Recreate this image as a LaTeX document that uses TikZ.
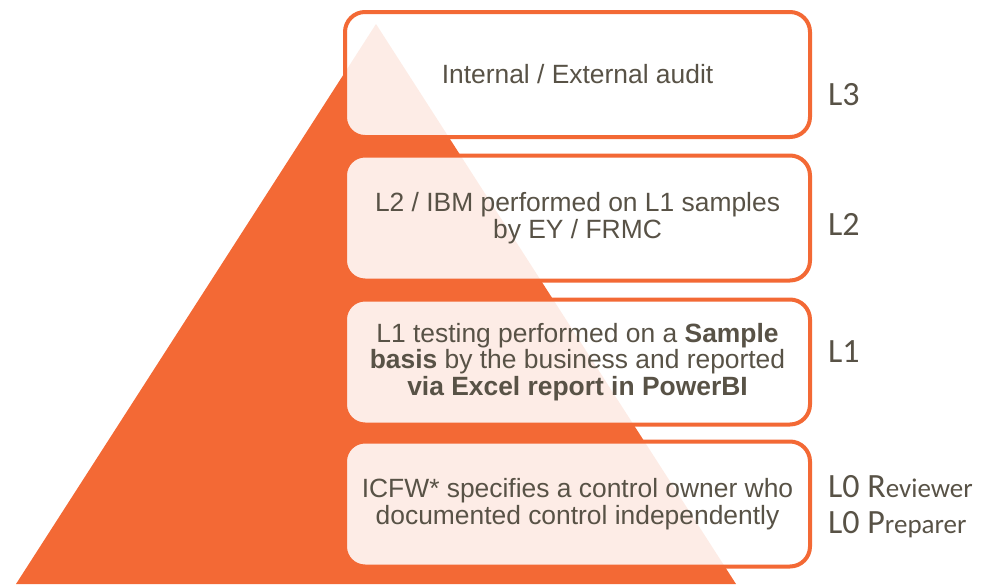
\documentclass[tikz,border=0pt]{standalone}
\usepackage{fontspec}
\setmainfont{Liberation Sans}
\newfontfamily\lvlfont{Carlito}
\usetikzlibrary{positioning}
\definecolor{pyr}{HTML}{F36935}
\definecolor{txt}{HTML}{585246}
\tikzset{
  tier/.style={draw=pyr, line width=4pt, rounded corners=20pt,
    fill=white, fill opacity=0.88, text opacity=1, text=txt,
    minimum width=465pt, minimum height=125pt, inner sep=0pt,
    align=center, font=\fontsize{26.4}{26.7}\selectfont},
  lvl/.style={anchor=base west, inner sep=0pt, text=txt,
    font=\lvlfont\fontsize{34}{36}\selectfont}
}
\newcommand{\lvlrest}{\fontsize{27}{30}\selectfont}
\begin{document}
\begin{tikzpicture}[x=1pt,y=-1pt]
  \useasboundingbox (0,0) rectangle (988,584);
  % pyramid
  \fill[pyr] (376,24)--(736,584)--(16,584)--cycle;
  % tiers
  \node[tier] (audit) at (577.5,74.5) {Internal / External audit};
  \node[tier] (ibm) at (577.5,218) {L2 / IBM performed on L1 samples\\ by EY / FRMC};
  \node[tier] (test) at (577.5,362) {L1 testing performed on a \textbf{Sample}\\
    \textbf{basis} by the business and reported\\ \textbf{via Excel report in PowerBI}};
  \node[tier] (icfw) at (577.5,504) {ICFW* specifies a control owner who\\
    documented control independently};
  % levels
  \node[lvl] (l3) at (828,105) {L3};
  \node[lvl] (l2) at (828,235) {L2};
  \node[lvl] (l1) at (828,362) {L1};
  \node[lvl] (rev) at (828,497) {L0 R{\lvlrest eviewer}};
  \node[lvl] (prep) at (828,533) {L0 P{\lvlrest reparer}};
\end{tikzpicture}
\end{document}
